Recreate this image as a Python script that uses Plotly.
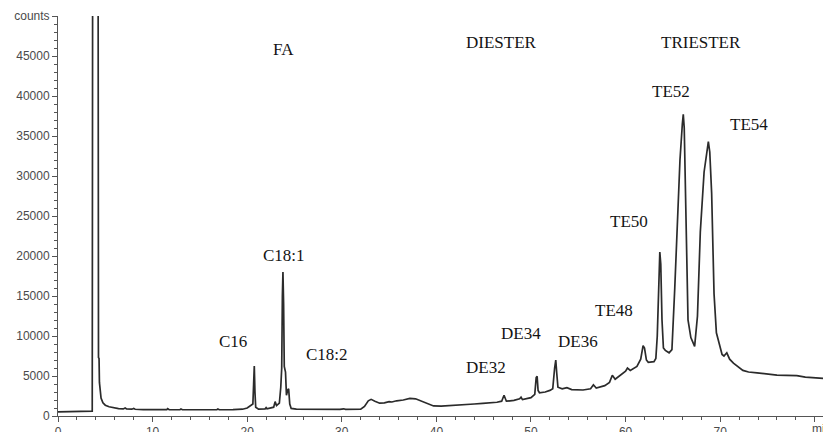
import plotly.graph_objects as go

# Retention time (min) and detector response (counts) of the GC trace
rt = [0, 3.55, 3.62, 3.68, 4.22, 4.28, 4.34, 4.38, 4.45, 4.55, 4.75, 5.0, 5.4, 5.8, 6.4,
      6.9, 7.1, 7.25, 7.8, 8.0, 8.15, 9.0, 10.5, 11.5, 11.6, 11.75, 12.9, 13.0, 13.15,
      14.5, 16.8, 16.9, 17.05, 18.5, 19.5, 20.0, 20.4, 20.6, 20.68, 20.75, 20.82, 20.9,
      21.2, 21.9, 22.0, 22.1, 22.8, 22.95, 23.1, 23.4, 23.55, 23.65, 23.72, 23.78, 23.85,
      23.92, 24.05, 24.15, 24.3, 24.38, 24.5, 24.65, 25.2, 27.0, 29.8, 30.2, 30.4, 32.0,
      32.4, 32.8, 33.1, 33.5, 34.0, 34.5, 35.0, 35.3, 35.8, 36.5, 37.2, 37.8, 38.4, 39.0,
      39.7, 40.5, 41.8, 43.2, 44.0, 44.9, 45.5, 46.4, 46.9, 47.15, 47.4, 48.2, 48.8,
      48.95, 49.1, 50.0, 50.4, 50.55, 50.65, 50.75, 50.9, 51.5, 52.0, 52.3, 52.5, 52.62,
      52.72, 52.85, 53.3, 53.8, 54.3, 55.5, 56.3, 56.6, 56.9, 57.8, 58.3, 58.6, 58.9,
      59.5, 60.0, 60.2, 60.5, 61.2, 61.6, 61.85, 62.0, 62.2, 62.4, 63.0, 63.2, 63.35,
      63.5, 63.62, 63.72, 63.85, 64.0, 64.2, 64.6, 64.9, 65.2, 65.5, 65.75, 66.0, 66.1,
      66.2, 66.4, 66.6, 66.9, 67.3, 67.6, 67.9, 68.3, 68.6, 68.75, 68.9, 69.1, 69.35,
      69.6, 69.8, 70.2, 70.4, 70.7, 71.0, 71.4, 72.4, 73.0, 73.9, 75.0, 76.0, 77.0,
      78.1, 79.0, 80.5, 81.0]
counts = [520, 520, 600, 80000, 80000, 7300, 7200, 4200, 3000, 2250, 1650, 1350, 1150,
          1040, 930, 880, 1000, 880, 850, 950, 840, 800, 780, 790, 920, 790, 780, 880,
          780, 770, 780, 880, 780, 800, 850, 1000, 1300, 1500, 4000, 6250, 3000, 1100,
          850, 900, 1050, 900, 1100, 1800, 1300, 1600, 3600, 6000, 15000, 18000, 14000,
          6200, 5500, 2600, 3300, 3400, 1500, 950, 850, 830, 830, 900, 830, 860,
          1200, 1900, 2080, 1850, 1600, 1650, 1800, 1750, 1900, 2000, 2200, 2150, 1880,
          1550, 1260, 1230, 1300, 1460, 1500, 1580, 1620, 1720, 1850, 2600, 1850, 1950,
          2150, 2350, 2050, 2300, 2700, 4800, 4950, 3200, 2900, 3000, 3200, 3400, 6000,
          7000, 5400, 3600, 3400, 3550, 3300, 3250, 3400, 3900, 3500, 3800, 4200, 5100,
          4600, 5200, 5600, 6000, 5700, 6200, 7100, 8800, 8500, 7000, 6700, 6800, 7200,
          10000, 17000, 20500, 19000, 12000, 8500, 8200, 7900, 8300, 16000, 25000, 32000,
          36500, 37700, 36000, 24000, 12000, 9800, 8700, 12500, 23000, 30500, 33500,
          34300, 33000, 27800, 15300, 10400, 9500, 7700, 7500, 7900, 7100, 6600, 5700,
          5500, 5400, 5250, 5120, 5080, 5040, 4850, 4700, 4680]

# Axis ticks
x_ticks = [0, 10, 20, 30, 40, 50, 60, 70]
x_unit_pos = 80
x_unit_text = "min"
y_ticks = [0, 5000, 10000, 15000, 20000, 25000, 30000, 35000, 40000, 45000, 50000]
y_tick_text = ["0", "5000", "10000", "15000", "20000", "25000", "30000", "35000",
               "40000", "45000", "counts"]

# Peak / region labels: text, retention time, counts
label_text = ["FA", "DIESTER", "TRIESTER", "C16", "C18:1", "C18:2", "DE32", "DE34",
              "DE36", "TE48", "TE50", "TE52", "TE54"]
label_x = [23.8, 46.9, 68.0, 18.5, 23.9, 28.4, 45.2, 48.9, 55.0, 58.8, 60.4, 64.8, 73.0]
label_y = [45875, 46750, 46750, 9290, 20125, 7750, 6040, 10340, 9290, 13250, 24375,
           40600, 36400]

tick_font = dict(family="Liberation Sans, Arial, sans-serif", size=12, color="#4a4a4a")

fig = go.Figure()
fig.add_trace(go.Scatter(
    x=rt, y=counts, mode="lines",
    line=dict(color="#2b2b2b", width=1.7),
    hoverinfo="skip", showlegend=False,
))

for t, x, y in zip(label_text, label_x, label_y):
    fig.add_annotation(
        x=x, y=y, text=t, showarrow=False, xanchor="center", yanchor="middle",
        font=dict(family="Liberation Serif, Times New Roman, serif", size=17,
                  color="#141414"),
    )

# Time unit written in place of the last x tick label, running off the right edge
fig.add_annotation(
    x=x_unit_pos, xref="x", y=0, yref="paper", text=x_unit_text, showarrow=False,
    xanchor="left", yanchor="top", xshift=-5, yshift=-4, font=tick_font,
)

fig.update_xaxes(
    range=[0, 80.87], showline=True, linecolor="#555", linewidth=1,
    showgrid=False, zeroline=False, automargin=False,
    tickmode="array", tickvals=x_ticks + [x_unit_pos], ticktext=[str(v) for v in x_ticks] + [""],
    ticks="outside", ticklen=5, tickcolor="#555", tickfont=tick_font,
    minor=dict(tickmode="linear", tick0=0, dtick=2, ticks="outside", ticklen=3,
               tickcolor="#555", showgrid=False),
)
fig.update_yaxes(
    range=[0, 50000], showline=True, linecolor="#555", linewidth=1,
    showgrid=False, zeroline=False, automargin=False,
    tickmode="array", tickvals=y_ticks, ticktext=y_tick_text,
    ticks="outside", ticklen=5, tickcolor="#555", tickfont=tick_font,
    minor=dict(tickmode="linear", tick0=0, dtick=1000, ticks="outside", ticklen=3,
               tickcolor="#555", showgrid=False),
)

fig.update_layout(
    width=823, height=432,
    margin=dict(l=58, r=0, t=16, b=16),
    plot_bgcolor="white", paper_bgcolor="white",
)

fig.write_html("out.html")
